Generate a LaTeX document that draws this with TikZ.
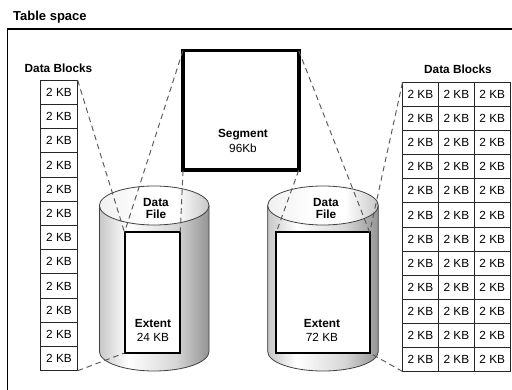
\documentclass[tikz,border=0pt]{standalone}
\usepackage{fontspec}
\setmainfont{Liberation Sans}
\colorlet{cylA}{black!22}
\colorlet{cylB}{black!16}
\colorlet{cylC}{black!42}
\colorlet{topA}{black!6}
\colorlet{topC}{black!22}
\pgfdeclarehorizontalshading{cylbody}{100bp}{color(0bp)=(cylA); color(25bp)=(cylA); color(38bp)=(white); color(60bp)=(cylB); color(75bp)=(cylC); color(100bp)=(cylC)}
\pgfdeclarehorizontalshading{cyltop}{100bp}{color(0bp)=(topA); color(25bp)=(topA); color(45bp)=(white); color(60bp)=(white); color(75bp)=(topC); color(100bp)=(topC)}
\newcommand\dgfont{\fontsize{11.8pt}{14pt}\selectfont}
\begin{document}
\begin{tikzpicture}[x=1pt,y=-1pt,
  cell/.style={draw=black!85, line width=0.9pt, fill=white, minimum width=37.4pt, minimum height=24.2pt, inner sep=0pt, outer sep=0pt, font=\dgfont},
  rcell/.style={cell, minimum width=35.9pt, minimum height=24.08pt},
  ext/.style={draw=black, fill=white, line width=2pt, inner sep=0pt, outer sep=0pt},
  cylline/.style={draw=black!75, line width=0.8pt},
  conn/.style={draw=black!65, line width=0.95pt, dash pattern=on 5.5pt off 4pt},
  lbl/.style={inner sep=0pt, font=\dgfont},
  lblb/.style={inner sep=0pt, font=\dgfont\bfseries}]
\useasboundingbox (0,0) rectangle (512,390);
% frame
\draw[line width=1.4pt] (7.7,395) -- (7.7,29.2) -- (516,29.2);
% left column of blocks
\foreach \i in {1,...,12}
  \node[cell] (L-\i) at (59,{80.3+24.2*(\i-0.5)}) {2 KB};
% right grid of blocks
\foreach \r in {1,...,12}
  \foreach \c in {1,2,3}
    \node[rcell] (R-\r-\c) at ({402.5+35.9*(\c-0.5)},{82.5+24.08*(\r-0.5)}) {2 KB};
% left cylinder
\path[shading=cylbody] (99.4,205.5) -- (99.4,351.5) arc[start angle=180, end angle=360, x radius=54.8pt, y radius=19.5pt] -- (209,205.5) -- cycle;
\draw[cylline] (99.4,205.5) -- (99.4,351.5) arc[start angle=180, end angle=360, x radius=54.8pt, y radius=19.5pt] -- (209,205.5);
\draw[cylline, shading=cyltop] (154.2,205.5) ellipse[x radius=54.8pt, y radius=19.5pt];
% right cylinder
\path[shading=cylbody] (267.7,205.5) -- (267.7,351.5) arc[start angle=180, end angle=360, x radius=55.3pt, y radius=19.5pt] -- (378.3,205.5) -- cycle;
\draw[cylline] (267.7,205.5) -- (267.7,351.5) arc[start angle=180, end angle=360, x radius=55.3pt, y radius=19.5pt] -- (378.3,205.5);
\draw[cylline, shading=cyltop] (323,205.5) ellipse[x radius=55.3pt, y radius=19.5pt];
% extents
\node[ext, minimum width=55.8pt, minimum height=120.7pt] (extL) at (152.4,292.65) {};
\node[ext, minimum width=93.4pt, minimum height=120.7pt] (extR) at (323,292.65) {};
% segment
\node[draw=black, fill=white, line width=3.6pt, minimum width=115.7pt, minimum height=119.8pt, inner sep=0pt, outer sep=0pt] (seg) at (240.85,110.4) {};
% dashed connectors
\draw[conn] (L-1.north east) -- (extL.north west);
\draw[conn] (L-12.south east) -- (extL.south west);
\draw[conn] (seg.north west) -- (extL.north west);
\draw[conn] (seg.south west) -- (extL.north east);
\draw[conn] (seg.north east) -- (extR.north east);
\draw[conn] (seg.south east) -- (extR.north west);
\draw[conn] (R-1-1.north west) -- (extR.north east);
\draw[conn] (R-12-1.south west) -- (extR.south east);
% labels
\node[inner sep=0pt, anchor=base west, font=\fontsize{13pt}{15pt}\selectfont\bfseries] (title) at (13,20.7) {Table space};
\node[lblb, anchor=base] (dbL) at (58.5,72.7) {Data Blocks};
\node[lblb, anchor=base] (dbR) at (458,74) {Data Blocks};
\node[lblb, anchor=base] (dfL1) at (156,206.7) {Data};
\node[lblb, anchor=base] (dfL2) at (156,218.3) {File};
\node[lblb, anchor=base] (dfR1) at (326,206.7) {Data};
\node[lblb, anchor=base] (dfR2) at (326,218.3) {File};
\node[lblb, anchor=base] (exL1) at (153,327.7) {Extent};
\node[lbl, anchor=base] (exL2) at (153,341.7) {24 KB};
\node[lblb, anchor=base] (exR1) at (322,327.7) {Extent};
\node[lbl, anchor=base] (exR2) at (322,341.7) {72 KB};
\node[lblb, anchor=base] (sg1) at (243,137.3) {Segment};
\node[lbl, anchor=base] (sg2) at (243,152.7) {96Kb};
\end{tikzpicture}
\end{document}
